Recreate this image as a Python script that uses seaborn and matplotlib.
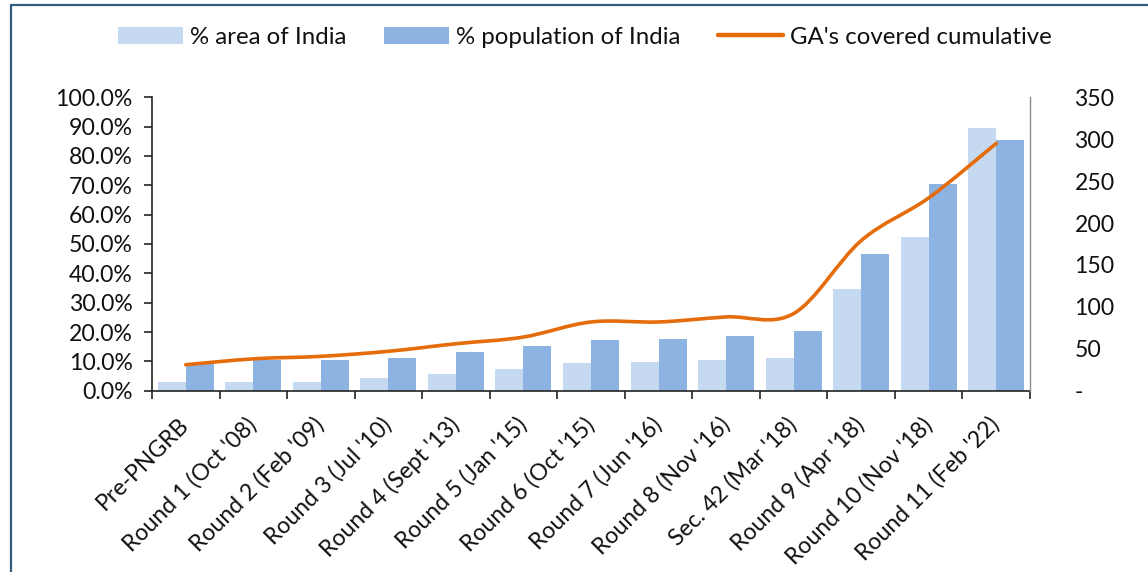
import numpy as np
import pandas as pd
import matplotlib
matplotlib.use("Agg")
import matplotlib.pyplot as plt
import matplotlib.transforms as mtransforms
import seaborn as sns
from matplotlib.path import Path
from matplotlib.patches import PathPatch, Patch
from matplotlib.lines import Line2D
from matplotlib.ticker import FixedLocator, FuncFormatter, MultipleLocator

categories = ["Pre-PNGRB", "Round 1 (Oct '08)", "Round 2 (Feb '09)", "Round 3 (Jul '10)",
              "Round 4 (Sept '13)", "Round 5 (Jan '15)", "Round 6 (Oct '15)", "Round 7 (Jun '16)",
              "Round 8 (Nov '16)", "Sec. 42 (Mar '18)", "Round 9 (Apr '18)", "Round 10 (Nov '18)",
              "Round 11 (Feb '22)"]
area_pct = [3.0, 3.0, 3.0, 4.3, 5.6, 7.5, 9.4, 9.8, 10.5, 11.0, 34.8, 52.5, 89.6]
population_pct = [9.5, 10.3, 10.4, 11.1, 13.2, 15.2, 17.3, 17.7, 18.6, 20.2, 46.5, 70.6, 85.6]
ga_cumulative = [31, 38, 41, 47, 56, 64, 82, 82, 88, 92, 179, 230, 295]

series_names = ["% area of India", "% population of India"]
line_name = "GA's covered cumulative"

C_AREA = "#C5D9F1"
C_POP = "#8DB3E2"
C_LINE = "#E46C0A"
C_TEXT = "#111111"
C_BORDER = "#355C7D"

sns.set_theme(style="white")
plt.rcParams["font.family"] = ["Lato", "DejaVu Sans"]
FS = 16.6
FS_LEG = 17.3

df = pd.DataFrame({
    "category": categories * 2,
    "value": area_pct + population_pct,
    "series": [series_names[0]] * len(categories) + [series_names[1]] * len(categories),
})

fig = plt.figure(figsize=(11.48, 5.72), dpi=100)
ax = fig.add_axes([152 / 1148, 1 - 390.7 / 572, (1030 - 152) / 1148, (390.7 - 97.3) / 572])

sns.barplot(data=df, x="category", y="value", hue="series", order=categories,
            hue_order=series_names, palette=[C_AREA, C_POP], width=0.83,
            saturation=1, ax=ax, legend=False, linewidth=0)

ax.set_ylim(0, 100)
ax.set_xlim(-0.5, len(categories) - 0.5)
ax.yaxis.set_major_locator(MultipleLocator(10))
ax.yaxis.set_major_formatter(FuncFormatter(lambda v, p: f"{v:.1f}%"))
ax.set_xlabel("")
ax.set_ylabel("")
for s in ["top", "right"]:
    ax.spines[s].set_visible(False)
for s in ["left", "bottom"]:
    ax.spines[s].set_color("#222222")
    ax.spines[s].set_linewidth(1.2)

ax.tick_params(axis="y", which="major", direction="out", length=6, width=1.2,
               color="#222222", labelsize=FS, labelcolor=C_TEXT, pad=8, left=True)
# category labels at centers, tick marks at boundaries
ax.set_xticks(np.arange(len(categories)))
ax.set_xticklabels(categories)
ax.xaxis.set_minor_locator(FixedLocator(np.arange(-0.5, len(categories), 1.0)))
ax.tick_params(axis="x", which="major", length=0, labelsize=FS, labelcolor=C_TEXT, pad=22)
ax.tick_params(axis="x", which="minor", direction="out", length=6, width=1.2,
               color="#222222", bottom=True)
offset = mtransforms.ScaledTranslation(0 / 100, 0, fig.dpi_scale_trans)
for lab in ax.get_xticklabels():
    lab.set_rotation(45)
    lab.set_ha("right")
    lab.set_va("center")
    lab.set_rotation_mode("anchor")
    lab.set_transform(lab.get_transform() + offset)

# secondary axis
ax2 = ax.twinx()
ax2.set_ylim(0, 350)
ax2.yaxis.set_major_locator(MultipleLocator(50))
ax2.yaxis.set_major_formatter(FuncFormatter(lambda v, p: "-" if v == 0 else f"{v:.0f}"))
ax2.tick_params(axis="y", length=0, labelsize=FS, labelcolor=C_TEXT, pad=32)
for s in ["top", "left", "bottom"]:
    ax2.spines[s].set_visible(False)
ax2.spines["right"].set_color("#8C8C8C")
ax2.spines["right"].set_linewidth(1.0)
ax2.grid(False)
ax.grid(False)

# smoothed line (Catmull-Rom style Bezier through the data points)
xs = np.arange(len(categories), dtype=float)
ys = np.asarray(ga_cumulative, dtype=float)
pts = np.column_stack([xs, ys])
verts = [tuple(pts[0])]
codes = [Path.MOVETO]
n = len(pts)
for i in range(n - 1):
    p0 = pts[i - 1] if i > 0 else pts[i]
    p1 = pts[i]
    p2 = pts[i + 1]
    p3 = pts[i + 2] if i + 2 < n else pts[i + 1]
    c1 = p1 + (p2 - p0) / 6.0
    c2 = p2 - (p3 - p1) / 6.0
    verts += [tuple(c1), tuple(c2), tuple(p2)]
    codes += [Path.CURVE4, Path.CURVE4, Path.CURVE4]
curve = PathPatch(Path(verts, codes), facecolor="none", edgecolor=C_LINE,
                  linewidth=2.6, capstyle="round", joinstyle="round", zorder=5)
ax2.add_patch(curve)

# legend
handles = [Patch(facecolor=C_AREA, edgecolor="none"),
           Patch(facecolor=C_POP, edgecolor="none"),
           Line2D([0], [0], color=C_LINE, linewidth=3.2, solid_capstyle="round")]
labels = series_names + [line_name]
leg = fig.legend(handles, labels, loc="center", bbox_to_anchor=(585 / 1148, 1 - 37 / 572),
                 ncol=3, frameon=False, fontsize=FS_LEG, handlelength=2.7, handleheight=0.7,
                 handletextpad=0.3, columnspacing=1.55, borderaxespad=0)
for t in leg.get_texts():
    t.set_color(C_TEXT)

# outer border (left and top)
fig.add_artist(Line2D([10.5 / 1148, 10.5 / 1148], [0, 1 - 5 / 572], transform=fig.transFigure,
                      color=C_BORDER, linewidth=1.6))
fig.add_artist(Line2D([10.5 / 1148, 1], [1 - 5 / 572, 1 - 5 / 572], transform=fig.transFigure,
                      color=C_BORDER, linewidth=1.6))

fig.savefig("out.png", dpi=100)
